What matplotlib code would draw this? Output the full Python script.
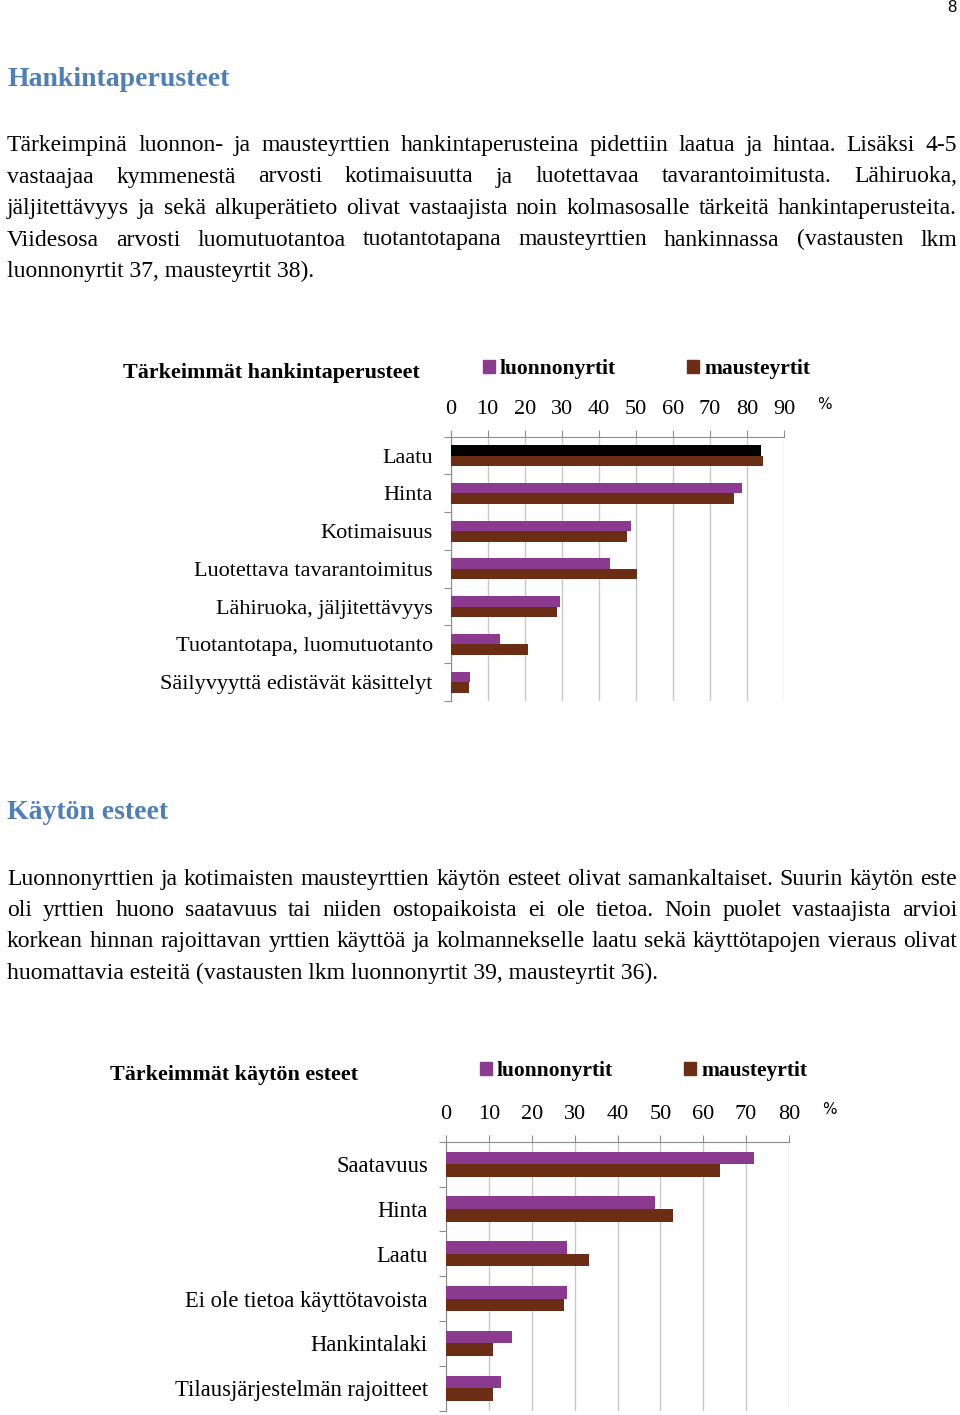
import matplotlib.pyplot as plt
from matplotlib.patches import Patch

# Page size in pixels (saved at dpi 100)
W, H = 960, 1415

# Chart 1: hankintaperusteet (%)
kriteerit = ["Laatu", "Hinta", "Kotimaisuus", "Luotettava tavarantoimitus",
             "Lähiruoka, jäljitettävyys", "Tuotantotapa, luomutuotanto",
             "Säilyvyyttä edistävät käsittelyt"]
kriteerit_luonnon = [83.8, 78.6, 48.6, 43.1, 29.5, 13.4, 5.3]
kriteerit_mauste = [84.4, 76.6, 47.5, 50.2, 28.8, 20.9, 5.0]
ticks1 = [0, 10, 20, 30, 40, 50, 60, 70, 80, 90]

# Chart 2: käytön esteet (%)
esteet = ["Saatavuus", "Hinta", "Laatu", "Ei ole tietoa käyttötavoista",
          "Hankintalaki", "Tilausjärjestelmän rajoitteet"]
esteet_luonnon = [71.9, 48.8, 28.2, 28.2, 15.4, 12.8]
esteet_mauste = [64.0, 52.9, 33.4, 27.6, 11.0, 11.0]
ticks2 = [0, 10, 20, 30, 40, 50, 60, 70, 80]

# Body text, broken into lines as on the page
para1 = [
    "Tärkeimpinä luonnon- ja mausteyrttien hankintaperusteina pidettiin laatua ja hintaa. Lisäksi 4-5",
    "vastaajaa kymmenestä arvosti kotimaisuutta ja luotettavaa tavarantoimitusta. Lähiruoka,",
    "jäljitettävyys ja sekä alkuperätieto olivat vastaajista noin kolmasosalle tärkeitä hankintaperusteita.",
    "Viidesosa arvosti luomutuotantoa tuotantotapana mausteyrttien hankinnassa (vastausten lkm",
    "luonnonyrtit 37, mausteyrtit 38).",
]
para2 = [
    "Luonnonyrttien ja kotimaisten mausteyrttien käytön esteet olivat samankaltaiset. Suurin käytön este",
    "oli yrttien huono saatavuus tai niiden ostopaikoista ei ole tietoa. Noin puolet vastaajista arvioi",
    "korkean hinnan rajoittavan yrttien käyttöä ja kolmannekselle laatu sekä käyttötapojen vieraus olivat",
    "huomattavia esteitä (vastausten lkm luonnonyrtit 39, mausteyrtit 36).",
]

PURPLE = "#8B3A8F"
BROWN = "#6B2E14"
HEAD = "#4F7FB8"
SERIF = "Liberation Serif"

fig = plt.figure(figsize=(W / 100, H / 100), dpi=100)


def fx(x):
    return x / W


def fy(y):
    return 1 - y / H


body = dict(fontsize=17, family=SERIF, va="baseline", color="black")
LEFT, RIGHT = 7, 957


def justified(lines, y0, step):
    r = fig.canvas.get_renderer()
    for k, line in enumerate(lines):
        y = fy(y0 + k * step)
        if k == len(lines) - 1:
            fig.text(fx(LEFT), y, line, **body)
            continue
        words = line.split()
        objs = [fig.text(0, y, w, **body) for w in words]
        widths = [o.get_window_extent(r).width for o in objs]
        gap = (RIGHT - LEFT - sum(widths)) / (len(words) - 1)
        x = LEFT
        for o, w in zip(objs, widths):
            o.set_x(fx(x))
            x += w + gap


# page number and headings
fig.text(fx(957), fy(8), "8", fontsize=12, family="Liberation Sans",
         ha="right", va="center")
fig.text(fx(7), fy(80), "Hankintaperusteet", fontsize=20, family=SERIF,
         weight="bold", color=HEAD, va="center")
fig.text(fx(7), fy(813), "Käytön esteet", fontsize=20, family=SERIF,
         weight="bold", color=HEAD, va="center")
justified(para1, 151, 31.5)
justified(para2, 885, 31.2)


def chart(x0, x1, y0, y1, cats, luonnon, mauste, ticks, xmax, title,
          title_x, head_y, legend_x, luonnon_colors, cat_size):
    ax = fig.add_axes([fx(x0), fy(y1), fx(x1) - fx(x0), (y1 - y0) / H])
    n = len(cats)
    pos = [i + 0.5 for i in range(n)]
    hb = 0.28
    ax.barh([p - hb / 2 for p in pos], luonnon, height=hb,
            color=luonnon_colors, zorder=3)
    ax.barh([p + hb / 2 for p in pos], mauste, height=hb, color=BROWN,
            zorder=3)
    ax.set_xlim(0, xmax)
    ax.set_ylim(n, 0)
    ax.xaxis.tick_top()
    ax.set_xticks(ticks)
    ax.set_xticklabels([str(t) for t in ticks], family=SERIF, fontsize=16)
    ax.tick_params(axis="x", direction="out", length=5, color="#8c8c8c",
                   pad=8)
    ax.set_yticks(range(n + 1))
    ax.set_yticklabels([])
    ax.tick_params(axis="y", which="major", direction="out", length=5,
                   color="#8c8c8c")
    ax.set_yticks(pos, minor=True)
    ax.set_yticklabels(cats, minor=True, family=SERIF, fontsize=cat_size)
    ax.tick_params(axis="y", which="minor", length=0, pad=13)
    ax.grid(axis="x", color="#c8c8c8", linewidth=1, zorder=0)
    for s in ["right", "bottom"]:
        ax.spines[s].set_visible(False)
    for s in ["top", "left"]:
        ax.spines[s].set_color("#8c8c8c")
    ax.set_facecolor("none")
    # title, legend and unit
    fig.text(fx(title_x), fy(head_y + 4), title, family=SERIF,
             weight="bold", fontsize=15.8, va="center")
    handles = [Patch(color=PURPLE, label="luonnonyrtit"),
               Patch(color=BROWN, label="mausteyrtit")]
    fig.legend(handles=handles, loc="center left",
               bbox_to_anchor=(fx(legend_x), fy(head_y)), ncol=2,
               frameon=False, handlelength=0.55, handleheight=0.55,
               handletextpad=0.25, columnspacing=3.3, borderpad=0,
               prop=dict(family=SERIF, weight="bold", size=15.5))
    fig.text(fx(x1 + 40), fy(y0 - 32), "%", family="DejaVu Sans",
             fontsize=11, va="center", ha="center")
    return ax


chart(450.7, 784, 436.7, 701, kriteerit, kriteerit_luonnon,
      kriteerit_mauste, ticks1, 90, "Tärkeimmät hankintaperusteet",
      123, 369, 472, ["black"] + [PURPLE] * 6, 16)
chart(446, 789, 1141.7, 1410.7, esteet, esteet_luonnon, esteet_mauste,
      ticks2, 80, "Tärkeimmät käytön esteet", 110, 1071, 469, PURPLE, 16.3)

fig.savefig("out.png", dpi=100)
